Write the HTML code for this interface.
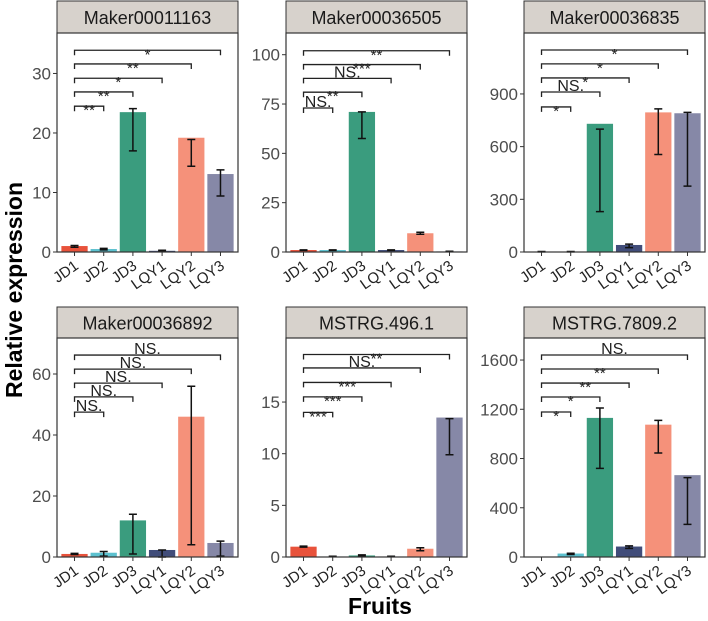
<!DOCTYPE html>
<html><head><meta charset="utf-8"><style>
body{margin:0;background:#fff}
svg{display:block;font-family:"Liberation Sans",Arial,sans-serif}
</style></head><body>
<svg id="c" width="708" height="621">
<text x="22" y="290" transform="rotate(-90 22 290)" text-anchor="middle" font-size="23" font-weight="bold">Relative expression</text>
<text x="380" y="614" text-anchor="middle" font-size="23" font-weight="bold">Fruits</text>
</svg>
<script>
const categories=["JD1","JD2","JD3","LQY1","LQY2","LQY3"];
const colors=["#E8523B","#5CC1CF","#3A9C7E","#414D7A","#F5917A","#8688A7"];
const titles=["Maker00011163","Maker00036505","Maker00036835","Maker00036892","MSTRG.496.1","MSTRG.7809.2"];
const values=[[1.0,0.5,23.5,0.2,19.2,13.1],[1,1,71,1,9.5,0.3],[2,2,730,40,795,790],[1,1.4,12,2.3,46,4.6],[1,0.05,0.15,0.05,0.8,13.5],[0,28,1130,85,1075,665]];
const errLow=[[0.8,0.35,17,0.1,14.4,9.4],[0.8,0.8,57.5,0.8,9,0.2],[1,1,230,25,555,375],[0.8,0.3,1,0,4,0.3],[0.95,0.03,0.1,0.03,0.6,9.9],[0,20,720,70,845,265]];
const errHigh=[[1.1,0.6,24.1,0.3,18.9,13.8],[1.1,1.1,71,1.1,10,0.4],[3,3,700,45,815,795],[1.2,1.8,14,2.3,56,5.2],[1.05,0.07,0.2,0.07,0.9,13.4],[0,30,1210,90,1110,645]];
const yMax=[36.8,111,1247,71.8,21.2,1779];
const yTicks=[[0,10,20,30],[0,25,50,75,100],[0,300,600,900],[0,20,40,60],[0,5,10,15],[0,400,800,1200,1600]];
const bracketY=[[24.5,26.9,29.2,31.6,33.9],[73,81,88,95,102],[826,911,991,1071,1150],[47.5,52.5,57,61.6,66.2],[14,15.5,16.9,18.3,19.6],[1178,1300,1413,1527,1641]];
const bracketLab=[["**","**","*","**","*"],["NS.","**","NS.","***","**"],["*","NS.","*","*","*"],["NS.","NS.","NS.","NS.","NS."],["***","***","***","NS.","**"],["*","*","**","**","NS."]];
const NS="http://www.w3.org/2000/svg";
const svg=document.getElementById('c');
function mk(t,a,p){const e=document.createElementNS(NS,t);for(const k in a)e.setAttribute(k,a[k]);(p||svg).appendChild(e);return e;}
const lefts=[57,286,524],rows=[{s:1,t:33,b:252},{s:307,t:338,b:557}];
for(let p=0;p<6;p++){
 const L=lefts[p%3],R=L+181,rw=rows[Math.floor(p/3)];
 const g=mk('g',{});
 
 
 const y=v=>rw.b-(v/yMax[p])*(rw.b-rw.t);
 const unit=(R-L)/6.2;
 const x=i=>L+unit*(0.6+i);
 const strip=mk('rect',{x:L,y:rw.s,width:R-L,height:rw.t-rw.s,fill:"#D7D2CC",stroke:"#333","stroke-width":1},g);
 
 
 const st=mk('text',{x:(L+R)/2,y:rw.s+(rw.t-rw.s)/2+7,"text-anchor":"middle","font-size":18,fill:"#1a1a1a"},g);
 st.textContent=titles[p];
 
 
 categories.forEach((c,i)=>{
  const bw=unit*0.9,v=values[p][i];
  const b=mk('rect',{x:x(i)-bw/2,y:y(v),width:bw,height:Math.max(0,rw.b-y(v)),fill:colors[i]},g);
  
  
  const lo=y(errLow[p][i]),hi=y(errHigh[p][i]);
  if(Math.abs(lo-hi)>0.5||v>0){
   const e=mk('path',{d:`M${x(i)} ${lo}V${hi}M${x(i)-4} ${lo}H${x(i)+4}M${x(i)-4} ${hi}H${x(i)+4}`,stroke:"#111","stroke-width":1.5,fill:"none"},g);
   
   
  }
  mk('line',{x1:x(i),x2:x(i),y1:rw.b,y2:rw.b+4,stroke:"#333"},g);
  const xl=mk('text',{x:x(i)+5,y:rw.b+16,"text-anchor":"end","font-size":15,fill:"#222",transform:`rotate(-35 ${x(i)+5} ${rw.b+16})`},g);
  xl.textContent=c;
  
  
 });
 yTicks[p].forEach(t=>{
  mk('line',{x1:L-4,x2:L,y1:y(t),y2:y(t),stroke:"#333"},g);
  const tl=mk('text',{x:L-6,y:y(t)+6,"text-anchor":"end","font-size":17,fill:"#4d4d4d"},g);
  tl.textContent=t;
  
  
 });
 bracketY[p].forEach((bv,k)=>{
  const by=y(bv),x1=x(0),x2=x(k+1);
  const br=mk('path',{d:`M${x1} ${by+5}V${by}H${x2}V${by+5}`,stroke:"#222","stroke-width":1.3,fill:"none"},g);
  
  
  const lab=bracketLab[p][k],ns=lab==="NS.";
  const bt=mk('text',{x:(x1+x2)/2,y:ns?by-1:by+9,"text-anchor":"middle","font-size":ns?16:15,fill:"#222"},g);
  bt.textContent=lab;
  
  
 });
 const fr=mk('rect',{x:L,y:rw.t,width:R-L,height:rw.b-rw.t,fill:"none",stroke:"#333","stroke-width":1.2},g);
 
 
}
</script>
</body></html>
